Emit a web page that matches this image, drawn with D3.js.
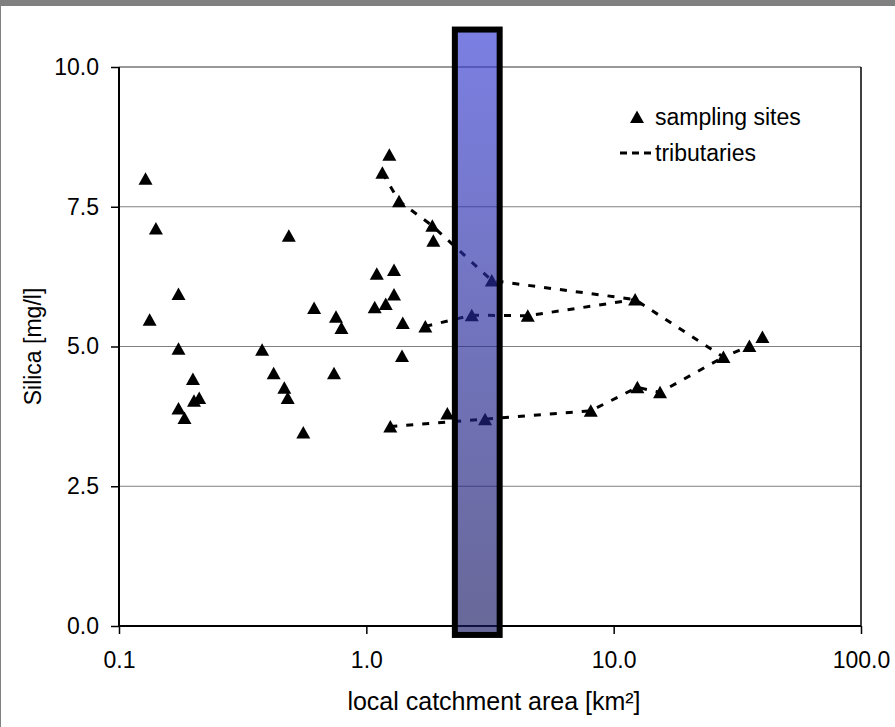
<!DOCTYPE html>
<meta charset="utf-8">
<style>
body { margin: 0; background: #fff; }
text { font-family: "Liberation Sans", Arial, sans-serif; fill: #000; }
.grid line { stroke: #808080; stroke-width: 1px; }
.trib { fill: none; stroke: #000; stroke-width: 3px; stroke-dasharray: 7,9; }
</style>
<body>
<script src="https://d3js.org/d3.v7.min.js"></script>
<script>

// sampling sites: local catchment area [km²] and silica [mg/l]
var siteArea = [0.128, 0.141, 0.133, 0.174, 0.174, 0.199, 0.211, 0.201, 0.174, 0.184,
                0.486, 0.379, 0.422, 0.466, 0.481, 0.556, 0.615, 0.754, 0.793, 0.740,
                1.161, 1.239, 1.356, 1.849, 1.866, 1.102, 1.294, 1.081, 1.198, 1.294,
                1.404, 1.394, 1.732, 2.668, 4.495, 3.215, 12.21, 2.126, 1.250, 3.02,
                8.08, 12.47, 15.40, 27.78, 35.38, 39.94];
var siteSilica = [8.00, 7.11, 5.48, 5.94, 4.96, 4.42, 4.08, 4.03, 3.89, 3.72,
                  6.98, 4.94, 4.52, 4.26, 4.08, 3.46, 5.69, 5.53, 5.33, 4.52,
                  8.11, 8.43, 7.60, 7.16, 6.89, 6.30, 6.37, 5.70, 5.76, 5.93,
                  5.42, 4.83, 5.36, 5.56, 5.55, 6.18, 5.84, 3.80, 3.57, 3.70,
                  3.85, 4.27, 4.18, 4.81, 5.01, 5.17];

// tributaries (dashed)
var tribUpper  = [[1.161, 8.11], [1.356, 7.60], [1.849, 7.16], [3.215, 6.18], [12.21, 5.84], [27.78, 4.81], [35.38, 5.01]];
var tribMiddle = [[1.732, 5.36], [2.668, 5.56], [4.495, 5.55], [12.21, 5.84]];
var tribLower  = [[1.250, 3.57], [3.02, 3.70], [8.08, 3.85], [12.47, 4.27], [15.40, 4.18], [27.78, 4.81]];

// highlighted band (area range, silica range)
var bandArea = [2.28, 3.46];
var bandSilica = [-0.16, 10.67];

var xTicks = [0.1, 1, 10, 100];
var yTicks = [0, 2.5, 5, 7.5, 10];

var width = 895, height = 727;

var x = d3.scaleLog().domain([0.1, 100]).range([119, 861]);
var y = d3.scaleLinear().domain([0, 10]).range([626, 67]);

var svg = d3.select("body").append("svg")
    .attr("width", width)
    .attr("height", height);

// outer frame
svg.append("rect").attr("x", 0).attr("y", 0).attr("width", width).attr("height", 6).attr("fill", "#808080");
svg.append("rect").attr("x", 0).attr("y", 0).attr("width", 1).attr("height", height).attr("fill", "#808080");

var defs = svg.append("defs");
var grad = defs.append("linearGradient").attr("id", "bandGrad")
    .attr("x1", 0).attr("y1", 0).attr("x2", 0).attr("y2", 1);
grad.append("stop").attr("offset", "0%").attr("stop-color", "rgb(52,58,210)");
grad.append("stop").attr("offset", "100%").attr("stop-color", "rgb(23,23,97)");

// gridlines
svg.append("g").attr("class", "grid")
  .selectAll("line").data(yTicks.filter(function(d) { return d > 0; }))
  .enter().append("line")
    .attr("x1", x(0.1)).attr("x2", x(100))
    .attr("y1", function(d) { return y(d); })
    .attr("y2", function(d) { return y(d); })
    .style("stroke", function(d) { return d === 10 ? "#333" : null; });

// right border
svg.append("line")
    .attr("x1", x(100)).attr("x2", x(100))
    .attr("y1", y(10)).attr("y2", y(0))
    .attr("stroke", "#000").attr("stroke-width", 1.5);

// axes
var fmt = d3.format(".1f");
var yAxis = svg.append("g")
    .attr("transform", "translate(" + x(0.1) + ",0)")
    .call(d3.axisLeft(y).tickValues(yTicks).tickFormat(fmt).tickSize(8).tickPadding(12));
var xAxis = svg.append("g")
    .attr("transform", "translate(0," + y(0) + ")")
    .call(d3.axisBottom(x).tickValues(xTicks).tickFormat(fmt).tickSize(8).tickPadding(18));

[xAxis, yAxis].forEach(function(a) {
  a.select(".domain").attr("stroke", "#000").attr("stroke-width", 2);
  a.selectAll(".tick line").attr("stroke", "#000").attr("stroke-width", 1.5);
  a.selectAll("text").style("font-size", "23px").attr("fill", "#000");
});
yAxis.select(".domain").attr("d", "M0," + y(0) + "V" + y(10));
xAxis.select(".domain").attr("d", "M" + x(0.1) + ",0H" + x(100));

// axis titles
svg.append("text")
    .attr("x", 494).attr("y", 710)
    .attr("text-anchor", "middle")
    .style("font-size", "25px")
    .text("local catchment area [km²]");
svg.append("text")
    .attr("transform", "translate(41," + y(5) + ") rotate(-90)")
    .attr("text-anchor", "middle")
    .style("font-size", "23px")
    .text("Silica [mg/l]");

// tributaries
var line = d3.line()
    .x(function(d) { return x(d[0]); })
    .y(function(d) { return y(d[1]); });
svg.selectAll(".trib").data([tribUpper, tribMiddle, tribLower])
  .enter().append("path")
    .attr("class", "trib")
    .attr("d", line);

// triangle marker
function tri(cx, cy) {
  return "M" + cx + "," + (cy - 6.5) + "L" + (cx + 7) + "," + (cy + 6) + "L" + (cx - 7) + "," + (cy + 6) + "Z";
}

svg.append("g").selectAll("path")
  .data(d3.range(siteArea.length))
  .enter().append("path")
    .attr("d", function(i) { return tri(x(siteArea[i]), y(siteSilica[i])); })
    .attr("fill", "#000");

// highlighted band over everything
svg.append("rect")
    .attr("x", x(bandArea[0]))
    .attr("y", y(bandSilica[1]))
    .attr("width", x(bandArea[1]) - x(bandArea[0]))
    .attr("height", y(bandSilica[0]) - y(bandSilica[1]))
    .attr("fill", "url(#bandGrad)")
    .attr("fill-opacity", 0.65)
    .attr("stroke", "#000")
    .attr("stroke-width", 6);

// legend
var legend = svg.append("g");
legend.append("path").attr("d", tri(637, 117)).attr("fill", "#000");
legend.append("text").attr("x", 655).attr("y", 125).style("font-size", "23px").text("sampling sites");
legend.append("line")
    .attr("x1", 620).attr("x2", 652).attr("y1", 153).attr("y2", 153)
    .attr("stroke", "#000").attr("stroke-width", 3).attr("stroke-dasharray", "7,5");
legend.append("text").attr("x", 655).attr("y", 161).style("font-size", "23px").text("tributaries");

</script>
</body>
